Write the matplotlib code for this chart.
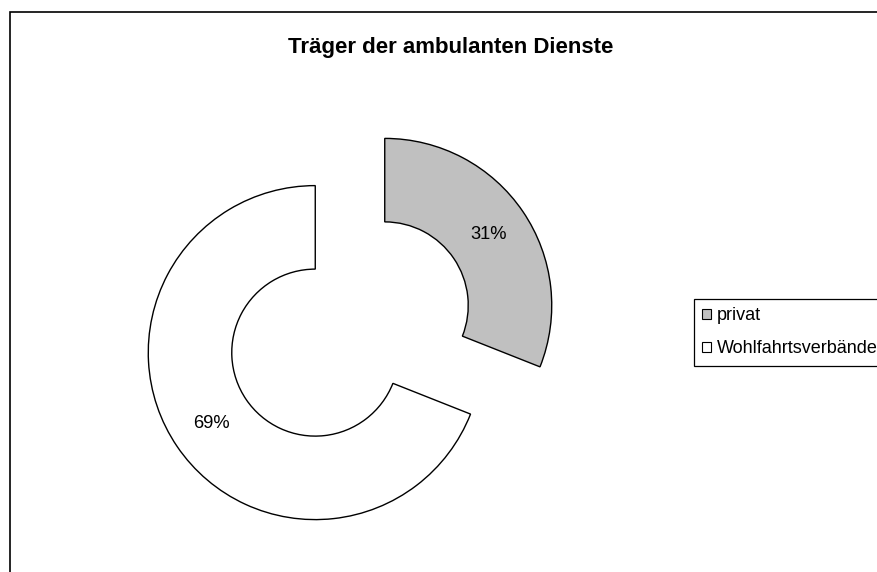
import matplotlib
matplotlib.use("Agg")
import matplotlib.pyplot as plt
from matplotlib.patches import Rectangle, Patch

categories = ["privat", "Wohlfahrtsverbände"]
values = [31, 69]
colors = ["#C0C0C0", "#FFFFFF"]
title = "Träger der ambulanten Dienste"

plt.rcParams['font.family'] = ['Liberation Sans', 'DejaVu Sans']

W, H = 878, 572
fig = plt.figure(figsize=(W / 100, H / 100), dpi=100)
ax = fig.add_axes([0, 0, 1, 1])

radius = 167
explode = [42, 42]
wedges, texts, autotexts = ax.pie(
    values, colors=colors, startangle=90, counterclock=False,
    center=(350, -329), radius=radius, explode=explode,
    wedgeprops=dict(width=radius * 0.5, edgecolor='black', linewidth=1.0),
    autopct='%1.0f%%', pctdistance=0.75, frame=True,
    textprops=dict(fontsize=13.2, color='black'))
ax.set_xlim(0, W)
ax.set_ylim(-H, 0)
ax.set_aspect('equal')
ax.axis('off')

# outer chart-area frame (cut at right/bottom)
ax.add_patch(Rectangle((10, -H - 10), W + 10, H - 2, fill=False,
                       edgecolor='black', linewidth=1.2, clip_on=False))

fig.text(451 / W, 1 - 47 / H, title, ha='center', va='center',
         fontsize=16, fontweight='bold')

handles = [Patch(facecolor=c, edgecolor='black', linewidth=0.8) for c in colors]
leg = ax.legend(handles, categories, loc='upper left',
                bbox_to_anchor=(694 / W, 1 - 299 / H), bbox_transform=fig.transFigure,
                fontsize=13, frameon=True, fancybox=False, framealpha=1,
                edgecolor='black', handlelength=0.5, handleheight=0.5,
                handletextpad=0.3, borderpad=0.45, labelspacing=0.9,
                borderaxespad=0)
leg.get_frame().set_linewidth(0.9)

fig.savefig("out.png", dpi=100)
